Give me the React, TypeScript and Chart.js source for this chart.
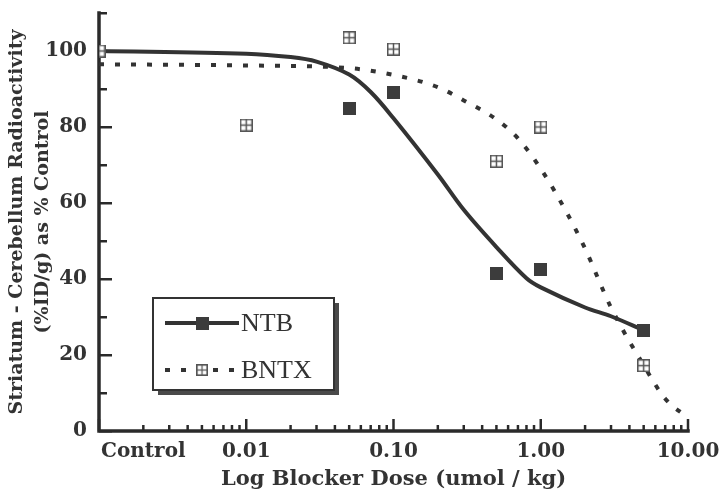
import React, { useEffect, useRef } from 'react';
import { Chart, registerables } from 'chart.js';

Chart.register(...registerables);

// ---- data ----
const ntbDoses = [0.05, 0.1, 0.5, 1, 5];
const ntbValues = [85, 89, 41.5, 42.5, 26.5];

const bntxDoses = [0.001, 0.01, 0.05, 0.1, 0.5, 1, 5];
const bntxValues = [100, 80.5, 103.5, 100.5, 71, 80, 17.2];

const ntbFitDoses = [0.001, 0.01, 0.02, 0.03, 0.05, 0.07, 0.1, 0.2, 0.3, 0.5, 0.8, 1, 2, 3, 5];
const ntbFitValues = [100, 99.3, 98.4, 97.2, 93.8, 89.2, 82.3, 67.5, 58.2, 48.4, 40.2, 37.8, 32.5, 30.2, 26.5];

const bntxFitDoses = [0.001, 0.01, 0.05, 0.1, 0.2, 0.3, 0.5, 0.7, 1, 1.5, 2, 3, 5, 7, 10];
const bntxFitValues = [96.5, 96.2, 95.5, 93.7, 90.5, 87, 82, 77, 69, 57.5, 48, 32.5, 17.3, 8.5, 3.5];

const xLabelValues = [0.002, 0.01, 0.1, 1, 10];
const xLabels = ['Control', '0.01', '0.10', '1.00', '10.00'];
const yLabelValues = [0, 20, 40, 60, 80, 100];
const yLabels = ['0', '20', '40', '60', '80', '100'];

const xTitle = 'Log Blocker Dose (umol / kg)';
const yTitle = ['Striatum - Cerebellum Radioactivity', '(%ID/g) as % Control'];
const seriesNames = ['NTB', 'BNTX'];

const INK = '#333333';
const SERIF = "'DejaVu Serif', serif";

function makeFilledSquare(size: number, color: string) {
  const c = document.createElement('canvas');
  c.width = size;
  c.height = size;
  const g = c.getContext('2d')!;
  g.fillStyle = color;
  g.fillRect(0, 0, size, size);
  return c;
}

function makeOpenSquare(size: number, color: string) {
  const c = document.createElement('canvas');
  c.width = size;
  c.height = size;
  const g = c.getContext('2d')!;
  g.fillStyle = '#ffffff';
  g.fillRect(0, 0, size, size);
  g.strokeStyle = color;
  g.lineWidth = 1.5;
  g.strokeRect(0.75, 0.75, size - 1.5, size - 1.5);
  g.beginPath();
  g.moveTo(size / 2, 1);
  g.lineTo(size / 2, size - 1);
  g.moveTo(1, size / 2);
  g.lineTo(size - 1, size / 2);
  g.stroke();
  return c;
}

function isDecade(v: number) {
  const l = Math.log10(v);
  return Math.abs(l - Math.round(l)) < 1e-9;
}

function labelLookup(values: number[], labels: string[], v: number) {
  for (let i = 0; i < values.length; i++) {
    if (Math.abs(values[i] - v) <= Math.abs(values[i]) * 1e-6 + 1e-12) return labels[i];
  }
  return '';
}

const axesPlugin = {
  id: 'inwardAxes',
  beforeDatasetsDraw(chart: any) {
    const { ctx, chartArea } = chart;
    const { left, right, top, bottom } = chartArea;
    const x = chart.scales.x;
    const y = chart.scales.y;
    ctx.save();
    ctx.strokeStyle = '#2a2a2a';
    ctx.lineWidth = 2.5;
    ctx.lineCap = 'butt';
    y.ticks.forEach((t: any) => {
      const py = Math.round(y.getPixelForValue(t.value)) + 0.25;
      const len = t.value % 20 === 0 ? 13 : 8;
      ctx.beginPath();
      ctx.moveTo(left, py);
      ctx.lineTo(left + len, py);
      ctx.stroke();
    });
    x.ticks.forEach((t: any) => {
      const px = x.getPixelForValue(t.value);
      const len = isDecade(t.value) ? 12 : 6;
      ctx.beginPath();
      ctx.moveTo(px, bottom);
      ctx.lineTo(px, bottom - len);
      ctx.stroke();
    });
    ctx.lineWidth = 3.5;
    ctx.lineCap = 'square';
    ctx.beginPath();
    ctx.moveTo(left, top);
    ctx.lineTo(left, bottom);
    ctx.lineTo(right, bottom);
    ctx.stroke();
    ctx.restore();
  },
};

const boxLegendPlugin = {
  id: 'boxLegend',
  afterDraw(chart: any) {
    const { ctx } = chart;
    const ds = chart.data.datasets;
    const bx = 153, by = 298, bw = 181, bh = 92;
    ctx.save();
    ctx.fillStyle = '#4a4a4a';
    ctx.fillRect(bx + 5, by + 5, bw, bh);
    ctx.fillStyle = '#ffffff';
    ctx.fillRect(bx, by, bw, bh);
    ctx.strokeStyle = '#333';
    ctx.lineWidth = 2;
    ctx.strokeRect(bx, by, bw, bh);

    const rows = [
      { line: ds[2], mark: ds[0], y: by + 25, scale: 1 },
      { line: ds[3], mark: ds[1], y: by + 72, scale: 0.85 },
    ];
    rows.forEach((r) => {
      ctx.strokeStyle = r.line.borderColor;
      ctx.lineWidth = r.line.borderWidth;
      ctx.setLineDash(r.line.borderDash || []);
      ctx.beginPath();
      ctx.moveTo(bx + 12, r.y);
      ctx.lineTo(bx + 86, r.y);
      ctx.stroke();
      ctx.setLineDash([]);
      const img = r.mark.pointStyle as HTMLCanvasElement;
      const w = img.width * r.scale;
      const h = img.height * r.scale;
      ctx.drawImage(img, bx + 49 - w / 2, r.y - h / 2, w, h);
      ctx.fillStyle = INK;
      ctx.font = "26px 'Liberation Serif', serif";
      ctx.textBaseline = 'middle';
      ctx.textAlign = 'left';
      ctx.fillText(r.mark.label, bx + 88, r.y + 1);
    });
    ctx.restore();
  },
};

export default function App() {
  const ref = useRef<HTMLCanvasElement>(null);
  useEffect(() => {
    document.body.style.margin = '0';
    const canvas = ref.current!;
    const filled = makeFilledSquare(13, '#3c3c3c');
    const open = makeOpenSquare(13, '#555555');

    const xMinor: number[] = [];
    for (let k = -3; k <= 0; k++) {
      for (let m = 1; m <= 9; m++) xMinor.push(Number((m * Math.pow(10, k)).toPrecision(6)));
    }
    xMinor.push(10);

    const chart = new Chart(canvas, {
      type: 'line',
      data: {
        datasets: [
          {
            label: seriesNames[0],
            data: ntbDoses.map((x, i) => ({ x, y: ntbValues[i] })),
            showLine: false,
            pointStyle: filled as any,
            pointRadius: 7,
            borderColor: INK,
            backgroundColor: INK,
          },
          {
            label: seriesNames[1],
            data: bntxDoses.map((x, i) => ({ x, y: bntxValues[i] })),
            showLine: false,
            pointStyle: open as any,
            pointRadius: 7,
            borderColor: INK,
            backgroundColor: '#fff',
          },
          {
            label: seriesNames[0] + ' fit',
            data: ntbFitDoses.map((x, i) => ({ x, y: ntbFitValues[i] })),
            borderColor: INK,
            borderWidth: 4,
            pointRadius: 0,
            tension: 0.35,
            fill: false,
          },
          {
            label: seriesNames[1] + ' fit',
            data: bntxFitDoses.map((x, i) => ({ x, y: bntxFitValues[i] })),
            borderColor: INK,
            borderWidth: 4,
            borderDash: [5, 11],
            pointRadius: 0,
            cubicInterpolationMode: 'monotone',
            fill: false,
          },
        ],
      },
      options: {
        responsive: false,
        animation: false,
        devicePixelRatio: 1,
        layout: { padding: { left: 0, right: 33, top: 13, bottom: 0 } },
        plugins: {
          legend: { display: false },
          tooltip: { enabled: false },
        },
        scales: {
          x: {
            type: 'logarithmic',
            min: 0.001,
            max: 10,
            afterBuildTicks: (scale: any) => {
              scale.ticks = xMinor.map((v) => ({ value: v, major: isDecade(v) }));
            },
            afterFit: (scale: any) => {
              scale.height = 63;
              scale.paddingLeft = 0;
              scale.paddingRight = 0;
            },
            grid: { display: false, drawTicks: false },
            border: { display: false },
            ticks: {
              autoSkip: false,
              maxRotation: 0,
              minRotation: 0,
              padding: 9,
              color: INK,
              font: { family: SERIF, size: 20, weight: 'bold' },
              callback: (v: any) => labelLookup(xLabelValues, xLabels, Number(v)),
            },
            title: {
              display: true,
              text: xTitle,
              color: INK,
              font: { family: SERIF, size: 21, weight: 'bold' },
              padding: { top: 0, bottom: 2 },
            },
          },
          y: {
            min: 0,
            max: 110,
            afterBuildTicks: (scale: any) => {
              const t = [];
              for (let v = 0; v <= 110; v += 10) t.push({ value: v });
              scale.ticks = t;
            },
            afterFit: (scale: any) => {
              scale.width = 99;
              scale.paddingTop = 0;
              scale.paddingBottom = 0;
            },
            grid: { display: false, drawTicks: false },
            border: { display: false },
            ticks: {
              autoSkip: false,
              padding: 12,
              color: INK,
              font: { family: SERIF, size: 20, weight: 'bold' },
              callback: (v: any) => labelLookup(yLabelValues, yLabels, Number(v)),
            },
            title: {
              display: true,
              text: yTitle,
              color: INK,
              font: { family: SERIF, size: 19, weight: 'bold', lineHeight: 1.32 },
              padding: { top: 5, bottom: 0 },
            },
          },
        },
      },
      plugins: [axesPlugin, boxLegendPlugin],
    } as any);
    return () => chart.destroy();
  }, []);
  return <canvas ref={ref} width={721} height={494} style={{ display: 'block' }} />;
}
